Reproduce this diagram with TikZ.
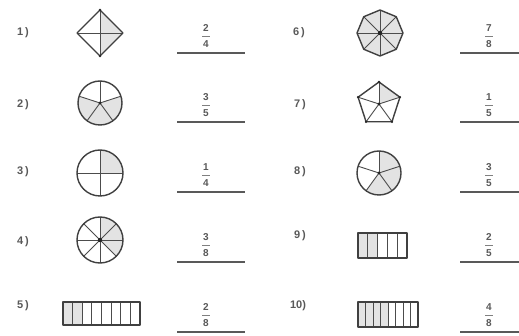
\documentclass[tikz,border=0pt]{standalone}
\usepackage{fontspec}
\setmainfont{Liberation Sans}
\newcommand\frc[7]{%
  \node[dig] (#1n) at (#2,#3-25) {#4};
  \node[dig] (#1d) at (#2,#3-9) {#5};
  \coordinate (#1p) at (#2-4,#3-17);
  \coordinate (#1q) at (#2+4,#3-17);
  \draw[fbar] (#1p) -- (#1q);
  \coordinate (#1a) at (#6,#3);
  \coordinate (#1b) at (#7,#3);
  \draw[ansline] (#1a) -- (#1b);
}
\begin{document}
\begin{tikzpicture}[x=1pt,y=-1pt,
  outl/.style={draw=black!75, line width=1.4pt, line join=round},
  spoke/.style={draw=black!70, line width=0.9pt},
  shd/.style={fill=black!11},
  lbl/.style={font=\fontsize{11}{13}\selectfont\bfseries, text=black!65, inner sep=0pt},
  dig/.style={font=\fontsize{10}{11}\selectfont\bfseries, text=black!65, inner sep=0pt},
  ansline/.style={draw=black!65, line width=1.3pt},
  fbar/.style={draw=black!50, line width=0.6pt},
  cdot/.style={fill=black!85}]
\useasboundingbox (0,0) rectangle (519,336);
\fill[white] (0,0) rectangle (519,336);

% labels
\node[lbl] (l1) at (23,33) {1\,)};
\node[lbl] (l2) at (23,105) {2\,)};
\node[lbl] (l3) at (23,172) {3\,)};
\node[lbl] (l4) at (23,242) {4\,)};
\node[lbl] (l5) at (23,306) {5\,)};
\node[lbl] (l6) at (299,33) {6\,)};
\node[lbl] (l7) at (300,105) {7\,)};
\node[lbl] (l8) at (300,172) {8\,)};
\node[lbl] (l9) at (300,236) {9\,)};
\node[lbl] (l10) at (298,306) {10)};

% fractions
\frc{f1}{206}{53}{2}{4}{177}{245}
\frc{f2}{206}{122}{3}{5}{177}{245}
\frc{f3}{206}{192}{1}{4}{177}{245}
\frc{f4}{206}{262}{3}{8}{177}{245}
\frc{f5}{206}{332}{2}{8}{177}{245}
\frc{f6}{489}{53}{7}{8}{460}{519}
\frc{f7}{489}{122}{1}{5}{460}{519}
\frc{f8}{489}{192}{3}{5}{460}{519}
\frc{f9}{489}{262}{2}{5}{460}{519}
\frc{f10}{489}{332}{4}{8}{460}{519}

% 1) diamond, 2/4
\begin{scope}[shift={(100,33)}, yscale=-1]
  \fill[shd] (0,23) -- (23,0) -- (0,-23) -- cycle;
  \draw[spoke] (-23,0) -- (23,0) (0,23) -- (0,-23);
  \draw[outl] (0,23) -- (23,0) -- (0,-23) -- (-23,0) -- cycle;
  \fill[cdot] (0,23) circle (1.3) (0,-23) circle (1.3);
\end{scope}

% 2) circle, 5 parts, 3/5
\begin{scope}[shift={(100,103)}, yscale=-1]
  \foreach \a in {18,-54,-126}
    \fill[shd] (0,0) -- (\a:22) arc[start angle=\a, end angle=\a-72, radius=22] -- cycle;
  \foreach \a in {90,18,-54,-126,162} \draw[spoke] (0,0) -- (\a:22);
  \draw[outl] (0,0) circle (22);
  \fill[cdot] (0,0) circle (1.6);
\end{scope}

% 3) circle, 4 parts, 1/4
\begin{scope}[shift={(100,173)}, yscale=-1]
  \fill[shd] (0,0) -- (0:23) arc[start angle=0, end angle=90, radius=23] -- cycle;
  \draw[spoke] (-23,0) -- (23,0) (0,-23) -- (0,23);
  \draw[outl] (0,0) circle (23);
\end{scope}

% 4) circle, 8 parts, 3/8
\begin{scope}[shift={(100,240)}, yscale=-1]
  \foreach \a in {90,45,0}
    \fill[shd] (0,0) -- (\a:23) arc[start angle=\a, end angle=\a-45, radius=23] -- cycle;
  \foreach \a in {0,45,...,315} \draw[spoke] (0,0) -- (\a:23);
  \draw[outl] (0,0) circle (23);
  \fill[cdot] (0,0) circle (2.2);
\end{scope}

% 5) bar, 8 parts, 2/8
\begin{scope}[shift={(63,302)}]
  \fill[shd] (0,0) rectangle (77/4,23);
  \foreach \i in {1,...,7} \draw[spoke] (\i*77/8,0) -- (\i*77/8,23);
  \draw[outl] (0,0) rectangle (77,23);
\end{scope}

% 6) octagon, 7/8
\begin{scope}[shift={(380,33)}, yscale=-1]
  \foreach \a in {135,180,...,450}
    \fill[shd] (0,0) -- (\a:23) -- (\a+45:23) -- cycle;
  \foreach \a in {0,45,...,315} \draw[spoke] (0,0) -- (\a:23);
  \draw[outl] (90:23) \foreach \a in {135,180,...,405} { -- (\a:23) } -- cycle;
  \fill[cdot] (0,0) circle (2.2);
\end{scope}

% 7) pentagon, 1/5
\begin{scope}[shift={(379,104)}, yscale=-1]
  \fill[shd] (0,0) -- (90:22) -- (18:22) -- cycle;
  \foreach \a in {90,18,-54,-126,162} \draw[spoke] (0,0) -- (\a:22);
  \draw[outl] (90:22) -- (18:22) -- (-54:22) -- (-126:22) -- (162:22) -- cycle;
  \foreach \a in {90,18,-54,-126,162} \fill[cdot] (\a:22) circle (1.3);
  \fill[cdot] (0,0) circle (1.6);
\end{scope}

% 8) circle, 5 parts, 3/5
\begin{scope}[shift={(379,173)}, yscale=-1]
  \foreach \a in {90,18,-54}
    \fill[shd] (0,0) -- (\a:22) arc[start angle=\a, end angle=\a-72, radius=22] -- cycle;
  \foreach \a in {90,18,-54,-126,162} \draw[spoke] (0,0) -- (\a:22);
  \draw[outl] (0,0) circle (22);
  \fill[cdot] (0,0) circle (1.6);
\end{scope}

% 9) bar, 5 parts, 2/5
\begin{scope}[shift={(358,233)}]
  \fill[shd] (0,0) rectangle (49*2/5,25);
  \foreach \i in {1,...,4} \draw[spoke] (\i*49/5,0) -- (\i*49/5,25);
  \draw[outl] (0,0) rectangle (49,25);
\end{scope}

% 10) bar, 8 parts, 4/8
\begin{scope}[shift={(358,302)}]
  \fill[shd] (0,0) rectangle (30,25);
  \foreach \i in {1,...,7} \draw[spoke] (\i*60/8,0) -- (\i*60/8,25);
  \draw[outl] (0,0) rectangle (60,25);
\end{scope}
\end{tikzpicture}
\end{document}
